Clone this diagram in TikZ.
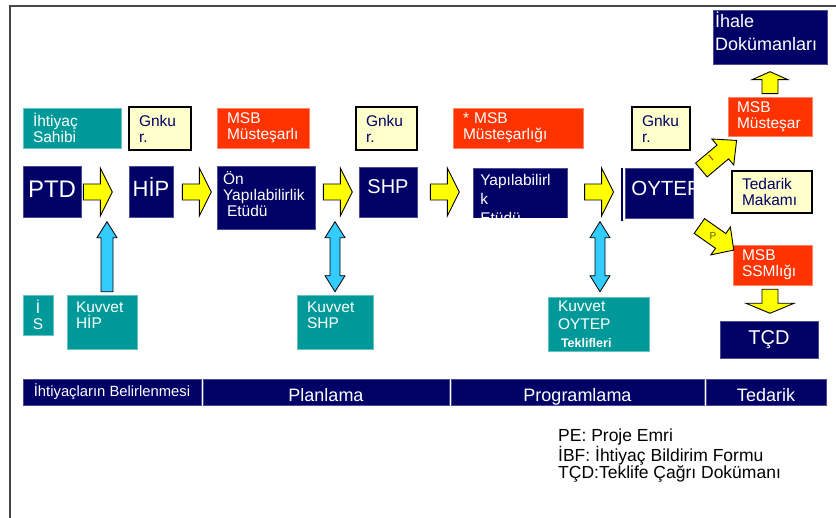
\documentclass[tikz,border=0pt]{standalone}
\usepackage{fontspec}
\setmainfont{Liberation Sans}
\usetikzlibrary{calc}
\definecolor{navyc}{RGB}{0,0,102}
\definecolor{tealc}{RGB}{0,153,153}
\definecolor{redc}{RGB}{255,51,0}
\definecolor{notec}{RGB}{255,255,204}
\definecolor{yarrowc}{RGB}{255,255,0}
\definecolor{barrowc}{RGB}{51,204,255}
\definecolor{framec}{RGB}{70,70,70}
\definecolor{lblred}{RGB}{160,20,0}
\definecolor{lblp}{RGB}{90,90,0}
\tikzset{
  pics/blockarrow/.style n args={5}{code={
    \path[#5] (0,-#3) -- ({#1-#2},-#3) -- ({#1-#2},-#4) -- (#1,0) -- ({#1-#2},#4) -- ({#1-#2},#3) -- (0,#3) -- cycle;}},
  pics/dblarrow/.style n args={5}{code={
    \path[#5] (0,0) -- (#2,-#4) -- (#2,-#3) -- ({#1-#2},-#3) -- ({#1-#2},-#4) -- (#1,0) -- ({#1-#2},#4) -- ({#1-#2},#3) -- (#2,#3) -- (#2,#4) -- cycle;}},
  yarrow/.style={fill=yarrowc, draw=black, line width=0.9pt, line join=miter},
  barrow/.style={fill=barrowc, draw=black, line width=0.8pt, line join=miter},
  basebox/.style={inner ysep=0pt, align=left, font=\fontsize{15.5}{16}\selectfont},
  navybox/.style={basebox, fill=navyc, draw=navyc!70!white, line width=0.6pt, text=white},
  tealbox/.style={basebox, fill=tealc, draw=tealc!60!white, line width=0.6pt, text=white},
  redbox/.style={basebox, fill=redc, draw=redc!60!white, line width=0.6pt, text=white},
  notebox/.style={basebox, fill=notec, draw=black, line width=1.3pt, text=navyc},
  barbox/.style={navybox, align=center, inner sep=0pt, minimum height=26pt, font=\fontsize{18}{18}\selectfont, text height=19pt, text depth=0pt},
  lbl/.style={font=\fontsize{10}{10}\selectfont, inner sep=0pt},
}
\begin{document}
\begin{tikzpicture}[x=1pt,y=-1pt]
\useasboundingbox (0,0) rectangle (836,518);
\fill[white] (0,0) rectangle (836,518);
\draw[framec, line width=2pt] (10,518) -- (10,6.5) -- (836,6.5);

% top row of role boxes
\node[tealbox, inner xsep=10pt, text width=78pt, minimum height=40pt] (sahibi) at (72,128) {İhtiyaç\\Sahibi};
\node[notebox, inner xsep=10pt, text width=42pt, minimum height=43pt] (g1) at (160,128.5) {Gnku\\r.};
\node[redbox, inner xsep=10pt, text width=72pt, minimum height=40pt] (msb1) at (263,128) {MSB\\Müsteşarlı};
\node[notebox, inner xsep=10pt, text width=41pt, minimum height=43pt] (g2) at (386.5,128.5) {Gnku\\r.};
\node[redbox, inner xsep=10pt, text width=110pt, minimum height=40pt] (msb2) at (518,128) {* MSB\\Müsteşarlığı};
\node[notebox, inner xsep=10pt, text width=38pt, minimum height=43pt] (g3) at (661,128.5) {Gnku\\r.};

% main process row
\node[navybox, align=center, minimum width=58pt, minimum height=51pt, font=\fontsize{24}{24}\selectfont, text depth=5pt] (ptd) at (52,191.5) {PTD};
\node[navybox, align=center, minimum width=44pt, minimum height=51pt, font=\fontsize{22}{22}\selectfont, text height=16pt, text depth=5pt] (hip) at (151,191.5) {HİP};
\node[navybox, inner xsep=6pt, text width=86pt, minimum height=63pt, text depth=38pt] (oyu) at (266,197.5) {Ön\\Yapılabilirlik\\\hspace*{4pt}Etüdü};
\node[navybox, align=center, minimum width=58pt, minimum height=50pt, font=\fontsize{20}{20}\selectfont, text depth=10pt] (shp) at (388,192) {SHP};
\begin{scope}
\clip (472,167) rectangle (568,217.5);
\node[navybox, anchor=north west, inner xsep=7pt, text width=80pt, minimum height=62pt, font=\fontsize{15.5}{19}\selectfont] (ye) at (473,168) {Yapılabilirl\\k\\Etüdü};
\end{scope}
\begin{scope}
\clip (624,167) rectangle (694,219);
\node[navybox, anchor=north west, inner xsep=6pt, text width=56pt, minimum height=50pt, font=\fontsize{20.5}{20.5}\selectfont, text height=14.7pt, text depth=10pt] (oytep) at (625,168) {OYTEP};
\end{scope}
\draw[navyc, line width=1.5pt] ($(oytep.north west)+(-3,0)$) -- ($(oytep.south west)+(-3,2)$);

% right column
\node[navybox, inner xsep=2pt, text width=110pt, minimum height=54pt, font=\fontsize{18}{23}\selectfont, text depth=34pt] (ihale) at (770,37) {İhale\\Dokümanları};
\node[redbox, inner xsep=9pt, text width=66pt, minimum height=39pt] (msbm) at (770,116.5) {MSB\\Müsteşar};
\node[notebox, inner xsep=10pt, text width=60pt, minimum height=42pt] (tm) at (772,192) {Tedarik\\Makamı};
\node[redbox, inner xsep=9pt, text width=61pt, minimum height=40pt] (ssm) at (772.5,265) {MSB\\SSMlığı};
\node[navybox, align=center, minimum width=98pt, minimum height=37pt, font=\fontsize{20}{20}\selectfont] (tcd) at (769,339.5) {TÇD};

% force boxes
\node[tealbox, align=center, minimum width=30pt, minimum height=40pt] (is) at (38,315) {İ\\S};
\node[tealbox, inner xsep=9pt, text width=52pt, minimum height=54pt, text depth=30pt] (khip) at (102,322) {Kuvvet\\HİP};
\node[tealbox, inner xsep=10pt, text width=56pt, minimum height=54pt, text depth=30pt] (kshp) at (335,322) {Kuvvet\\SHP};
\node[tealbox, inner xsep=10pt, text width=81pt, minimum height=54pt, font=\fontsize{15.5}{18}\selectfont] (koytep) at (598.5,324) {Kuvvet\\OYTEP\\\hspace*{3pt}{\fontsize{12.5}{12}\selectfont\bfseries Teklifleri}};

% phase bar
\node[barbox, minimum width=178pt, font=\fontsize{14.8}{14.8}\selectfont, text height=13pt, text depth=4pt] (b1) at (112,392) {İhtiyaçların Belirlenmesi};
\node[barbox, minimum width=246pt] (b2) at (326,392) {Planlama};
\node[barbox, minimum width=253pt] (b3) at (577.5,392) {Programlama};
\node[barbox, minimum width=120pt] (b4) at (766,392) {Tedarik};

% legend
\node[anchor=north west, inner sep=0pt, align=left, font=\fontsize{17.5}{15.5}\selectfont] (legend) at (558,428.5) {PE: Proje Emri\\İBF: İhtiyaç Bildirim Formu\\TÇD:Teklife Çağrı Dokümanı};

% yellow process arrows
\pic at ($(ptd.east)+(2,0.5)$) {blockarrow={29}{12}{8}{24}{yarrow}};
\pic at ($(hip.east)+(9,0.5)$) {blockarrow={29}{12}{8}{24}{yarrow}};
\pic at ($(oyu.east |- ptd.east)+(8,0.5)$) {blockarrow={29}{12}{8}{24}{yarrow}};
\pic at ($(shp.east)+(13,0)$) {blockarrow={29}{12}{8}{24}{yarrow}};
\pic at ($(ye.east |- ptd.east)+(17,0.5)$) {blockarrow={29}{12}{8}{24}{yarrow}};
\pic[rotate=90] at ($(msbm.north)+(0,-3)$) {blockarrow={22}{8}{8}{18}{yarrow}};
\pic[rotate=-90] at ($(ssm.south)+(-2.5,4)$) {blockarrow={24}{10}{8}{24}{yarrow}};
\pic[rotate=40] at ($(tm.west)+(-30,-22)$) {blockarrow={46}{18}{9}{17}{yarrow}};
\pic[rotate=-35] at ($(tm.west)+(-32,34)$) {blockarrow={42}{16}{9}{17}{yarrow}};
\node[lbl, text=lblred, rotate=40] (lbli) at (711,158) {I};
\node[lbl, text=lblp] (lblp) at (713,236) {P};

% blue force arrows
\pic[rotate=90] at ($(khip.north)+(5,-3)$) {blockarrow={70}{16}{6}{10}{barrow}};
\pic[rotate=90] at ($(kshp.north)+(0,-3)$) {dblarrow={70}{16}{5}{10}{barrow}};
\pic[rotate=90] at ($(koytep.north)+(1.5,-5)$) {dblarrow={70}{16}{5}{10}{barrow}};
\end{tikzpicture}
\end{document}
